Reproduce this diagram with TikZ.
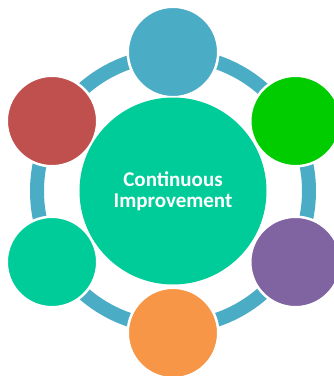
\documentclass[tikz,border=0pt]{standalone}
\usepackage{fontspec}
\setmainfont{Carlito}
\definecolor{ringblue}{HTML}{4BACC6}
\definecolor{cred}{HTML}{C0504D}
\definecolor{cgreen}{HTML}{00CC00}
\definecolor{cpurple}{HTML}{8064A2}
\definecolor{corange}{HTML}{F79646}
\definecolor{cteal}{HTML}{00CC99}
\begin{document}
\begin{tikzpicture}[x=1bp,y=-1bp,
  outer/.style={circle, draw=white, line width=2.5bp, minimum size=90.5bp, inner sep=0pt},
  ring/.style={draw=ringblue, line width=14bp}]
\useasboundingbox (0,0) rectangle (334,376);
\coordinate (c) at (173,191);
\draw[ring] (c) circle[radius=136];
\node[outer, fill=ringblue] (top) at (173,52) {};
\node[outer, fill=cgreen] (ur) at (295.5,121) {};
\node[outer, fill=cpurple] (lr) at (295.5,262) {};
\node[outer, fill=corange] (bot) at (173,333) {};
\node[outer, fill=cteal] (ll) at (52,262) {};
\node[outer, fill=cred] (ul) at (52,121) {};
\node[circle, fill=cteal, minimum size=187bp, inner sep=0pt, text=white,
  font=\bfseries\fontsize{21bp}{21bp}\selectfont, align=center] (main) at (c) {Continuous\\Improvement};
\end{tikzpicture}
\end{document}
